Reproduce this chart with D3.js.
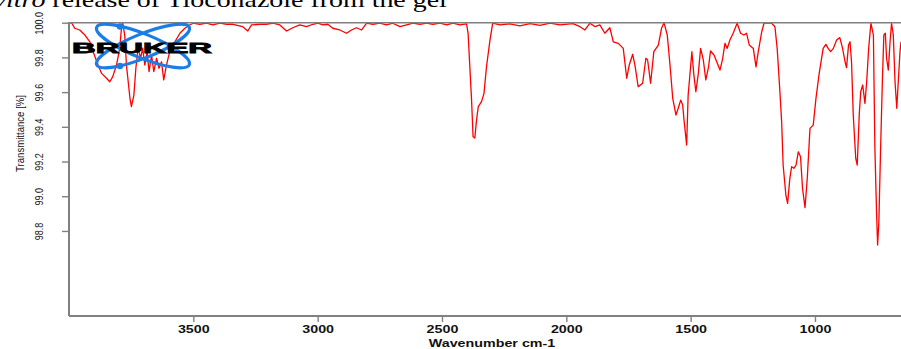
<!DOCTYPE html>
<html>
<head>
<meta charset="utf-8">
<script src="https://cdn.jsdelivr.net/npm/d3@7"></script>
<style>
  body { margin: 0; background: #fff; }
  svg { display: block; }
</style>
</head>
<body>
<svg id="svg"></svg>
<script>
// spectrum (cm-1, %T)
const wavenumber = [
  4000, 3990, 3977, 3957, 3936, 3916, 3903, 3883, 3869, 3849, 3836, 3824, 3809, 3796, 3789, 3784,
  3776, 3769, 3755, 3749, 3739, 3731, 3722, 3712, 3704, 3695, 3686, 3678, 3668, 3659, 3648, 3638,
  3628, 3619, 3608, 3595, 3574, 3554, 3534, 3514, 3501, 3474, 3447, 3422, 3393, 3366, 3341, 3301,
  3281, 3266, 3233, 3206, 3180, 3152, 3125, 3100, 3072, 3045, 3019, 2999, 2979, 2959, 2939, 2911,
  2884, 2864, 2844, 2823, 2803, 2778, 2750, 2723, 2698, 2669, 2642, 2617, 2589, 2562, 2537, 2508,
  2481, 2456, 2428, 2401, 2395, 2388, 2381, 2375, 2368, 2361, 2354, 2341, 2331, 2321, 2307, 2296,
  2267, 2227, 2187, 2146, 2106, 2066, 2026, 1973, 1945, 1925, 1905, 1884, 1865, 1845, 1825, 1811,
  1791, 1771, 1757, 1747, 1733, 1724, 1711, 1693, 1680, 1673, 1661, 1648, 1630, 1617, 1607, 1594,
  1583, 1572, 1559, 1550, 1540, 1532, 1526, 1516, 1510, 1503, 1495, 1487, 1479, 1469, 1460, 1449,
  1439, 1428, 1420, 1406, 1395, 1382, 1371, 1362, 1353, 1342, 1329, 1313, 1299, 1286, 1275, 1264,
  1248, 1237, 1228, 1214, 1205, 1174, 1161, 1152, 1141, 1134, 1128, 1117, 1110, 1101, 1094, 1085,
  1076, 1067, 1058, 1050, 1040, 1031, 1020, 1007, 996, 983, 967, 956, 947, 937, 926, 913,
  900, 889, 879, 873, 865, 859, 853, 846, 836, 830, 822, 816, 808, 799, 792, 784,
  775, 765, 759, 752, 748, 743, 736, 729, 723, 717, 712, 705, 698, 692, 685, 678,
  671, 665, 658, 654
];
const transmittance = [
  99.997, 100.0, 99.968, 99.958, 99.929, 99.890, 99.833, 99.756, 99.708, 99.680, 99.660, 99.689, 99.756, 99.854, 99.968, 100.0,
  99.929, 99.756, 99.566, 99.516, 99.583, 99.739, 99.854, 99.795, 99.854, 99.756, 99.833, 99.718, 99.814, 99.718, 99.795, 99.737,
  99.775, 99.670, 99.756, 99.833, 99.890, 99.939, 99.968, 99.987, 99.997, 99.991, 99.997, 99.987, 99.997, 99.991, 99.991, 99.977,
  99.952, 99.987, 99.991, 99.991, 99.997, 99.987, 99.952, 99.971, 99.987, 99.977, 99.991, 99.997, 99.987, 99.991, 99.968, 99.958,
  99.939, 99.958, 99.971, 99.958, 99.997, 99.991, 99.997, 99.987, 99.997, 99.977, 99.987, 99.997, 99.991, 99.997, 99.991, 99.997,
  99.987, 99.997, 99.987, 99.993, 99.939, 99.746, 99.554, 99.343, 99.335, 99.439, 99.516, 99.545, 99.593, 99.746, 99.900, 99.997,
  99.987, 99.993, 99.982, 99.995, 99.985, 99.997, 99.988, 99.995, 99.977, 99.958, 99.997, 99.977, 99.987, 99.939, 99.971, 99.890,
  99.881, 99.852, 99.680, 99.756, 99.818, 99.756, 99.631, 99.651, 99.795, 99.785, 99.651, 99.833, 99.871, 99.968, 100.0, 99.929,
  99.756, 99.564, 99.468, 99.507, 99.554, 99.526, 99.429, 99.295, 99.583, 99.699, 99.833, 99.699, 99.602, 99.708, 99.852, 99.785,
  99.670, 99.746, 99.837, 99.814, 99.775, 99.727, 99.795, 99.881, 99.852, 99.900, 99.939, 99.997, 99.939, 99.929, 99.939, 99.871,
  99.852, 99.746, 99.833, 99.948, 99.997, 99.997, 99.977, 99.852, 99.602, 99.429, 99.180, 99.007, 98.959, 99.103, 99.170, 99.161,
  99.180, 99.256, 99.228, 99.045, 98.934, 99.103, 99.391, 99.410, 99.564, 99.708, 99.852, 99.875, 99.852, 99.833, 99.852, 99.900,
  99.914, 99.852, 99.775, 99.741, 99.871, 99.890, 99.775, 99.468, 99.218, 99.180, 99.468, 99.602, 99.641, 99.535, 99.660, 99.852,
  99.997, 99.929, 99.276, 98.892, 98.719, 98.853, 99.276, 99.660, 99.929, 99.939, 99.795, 99.727, 99.890, 99.997, 99.929, 99.660,
  99.507, 99.660, 99.833, 99.890
];
const xTicks = [3500, 3000, 2500, 2000, 1500, 1000];
const yTicks = [98.8, 99.0, 99.2, 99.4, 99.6, 99.8, 100.0];
const xTitle = 'Wavenumber cm-1';
const yTitle = 'Transmittance [%]';
const captionItalic = 'in vitro';
const captionRest = ' release of Tioconazole from the gel';
const logoText = 'BRUKER';

const W = 901, H = 349;
const margin = { top: 22.7, right: 0, bottom: 33, left: 69 };
const axisGray = '#808080';

const svg = d3.select('#svg').attr('width', W).attr('height', H);

const x = d3.scaleLinear().domain([4000, 654]).range([margin.left, W - margin.right]);
const y = d3.scaleLinear().domain([98.31, 100]).range([H - margin.bottom, margin.top]);

const data = wavenumber.map((d, i) => ({ wn: d, t: transmittance[i] }));

// caption line of the page, cropped at the top of the picture
const cap = svg.append('text')
  .attr('font-family', '"Liberation Serif", "Times New Roman", serif')
  .attr('font-size', 22)
  .attr('fill', '#000');
cap.append('tspan').attr('font-style', 'italic').text(captionItalic);
cap.append('tspan').text(captionRest);
{
  const len = cap.node().getComputedTextLength();
  const s = 482 / len;
  cap.attr('transform', `translate(-35,7) scale(${s},1)`);
}

// spectrum
const line = d3.line().x(d => x(d.wn)).y(d => y(d.t));
svg.append('path')
  .datum(data)
  .attr('fill', 'none')
  .attr('stroke', '#ff0000')
  .attr('stroke-width', 1.3)
  .attr('stroke-linejoin', 'round')
  .attr('d', line);

// frame: top border, left and bottom axes
svg.append('line')
  .attr('x1', margin.left).attr('x2', W)
  .attr('y1', y(100)).attr('y2', y(100))
  .attr('stroke', axisGray).attr('stroke-width', 1.6);

const xAxis = d3.axisBottom(x).tickValues(xTicks).tickSize(6).tickFormat(d3.format('d'));
const gx = svg.append('g')
  .attr('transform', `translate(0,${H - margin.bottom})`)
  .call(xAxis);
gx.select('.domain').remove();
gx.selectAll('.tick line').attr('stroke', axisGray).attr('stroke-width', 1.4);
gx.selectAll('.tick text')
  .attr('fill', '#111')
  .attr('font-family', '"Liberation Sans", Arial, sans-serif')
  .attr('font-weight', 'bold')
  .attr('font-size', 11)
  .attr('transform', 'scale(1.3,1)');

const yAxis = d3.axisLeft(y).tickValues(yTicks).tickSize(7).tickFormat(d3.format('.1f'));
const gy = svg.append('g')
  .attr('transform', `translate(${margin.left},0)`)
  .call(yAxis);
gy.select('.domain').remove();
gy.selectAll('.tick line').attr('stroke', axisGray).attr('stroke-width', 1.4);
gy.selectAll('.tick text')
  .attr('fill', '#111')
  .attr('font-family', '"Liberation Sans", Arial, sans-serif')
  .attr('font-size', 11)
  .attr('x', 0).attr('y', -26).attr('dy', 0)
  .attr('text-anchor', 'middle')
  .attr('transform', 'rotate(-90) scale(0.82,1)');

svg.append('line')
  .attr('x1', margin.left).attr('x2', margin.left)
  .attr('y1', y(100) - 0.8).attr('y2', H - margin.bottom)
  .attr('stroke', axisGray).attr('stroke-width', 2);
svg.append('line')
  .attr('x1', margin.left).attr('x2', W)
  .attr('y1', H - margin.bottom).attr('y2', H - margin.bottom)
  .attr('stroke', axisGray).attr('stroke-width', 1.8);

// axis titles
svg.append('text')
  .attr('transform', 'translate(492,347) scale(1.3,1)')
  .attr('text-anchor', 'middle')
  .attr('font-family', '"Liberation Sans", Arial, sans-serif')
  .attr('font-weight', 'bold')
  .attr('font-size', 11)
  .attr('fill', '#111')
  .text(xTitle);

svg.append('text')
  .attr('transform', 'translate(24,133.5) rotate(-90)')
  .attr('text-anchor', 'middle')
  .attr('font-family', '"Liberation Sans", Arial, sans-serif')
  .attr('font-size', 11)
  .attr('fill', '#111')
  .attr('textLength', 77)
  .attr('lengthAdjust', 'spacingAndGlyphs')
  .text(yTitle);

// Bruker logo
const logo = svg.append('g');
[-22, 22].forEach(a => {
  logo.append('ellipse')
    .attr('cx', 143).attr('cy', 46)
    .attr('rx', 50).attr('ry', 12)
    .attr('transform', `rotate(${a},143,46)`)
    .attr('fill', 'none')
    .attr('stroke', '#1a7ee6')
    .attr('stroke-width', 3.2);
});
[[120, 26.5], [120, 66]].forEach(p => {
  logo.append('circle').attr('cx', p[0]).attr('cy', p[1]).attr('r', 3.2).attr('fill', '#1a7ee6');
});
logo.append('text')
  .attr('x', 72).attr('y', 53)
  .attr('font-family', '"Liberation Sans", Arial, sans-serif')
  .attr('font-weight', 'bold')
  .attr('font-size', 14)
  .attr('fill', '#000')
  .attr('stroke', '#000').attr('stroke-width', 0.8)
  .attr('textLength', 140)
  .attr('lengthAdjust', 'spacingAndGlyphs')
  .text(logoText);
</script>
</body>
</html>
